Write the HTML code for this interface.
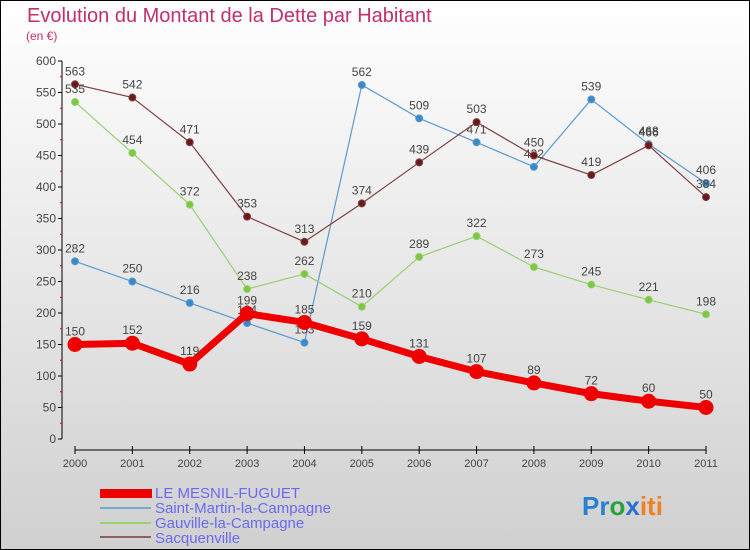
<!DOCTYPE html>
<html><head><meta charset="utf-8"><style>
body{margin:0;width:750px;height:550px;overflow:hidden;font-family:"Liberation Sans",sans-serif}
#c{position:absolute;left:0;top:0;width:748px;height:548px;border:1px solid #000;background:linear-gradient(#ffffff,#d0d0d0)}
</style></head><body>
<div id="c">
<svg id="s" width="750" height="550" style="position:absolute;left:-1px;top:-1px">
<text x="27" y="22" font-size="20" fill="#c0306a">Evolution du Montant de la Dette par Habitant</text>
<text x="26" y="40" font-size="12" fill="#c0306a">(en €)</text>
<g id="axes"></g><g id="series"></g>
<g>
<rect x="100" y="489" width="52" height="9" fill="#ee0000"/>
<text x="155" y="498" font-size="15" fill="#6a6af0">LE MESNIL-FUGUET</text>
<line x1="100" y1="508" x2="151" y2="508" stroke="#7aa8cc" stroke-width="2"/>
<text x="155" y="513" font-size="15" fill="#6a6af0">Saint-Martin-la-Campagne</text>
<line x1="100" y1="523" x2="151" y2="523" stroke="#99d070" stroke-width="2"/>
<text x="155" y="528" font-size="15" fill="#6a6af0">Gauville-la-Campagne</text>
<line x1="100" y1="537" x2="151" y2="537" stroke="#906060" stroke-width="2"/>
<text x="155" y="543" font-size="15" fill="#6a6af0">Sacquenville</text>
</g>
<text x="582" y="515" font-size="26" font-weight="bold"><tspan fill="#2a80d0">Pr</tspan><tspan fill="#2aa040">o</tspan><tspan fill="#2a70d0">x</tspan><tspan fill="#f08020">iti</tspan></text>
</svg></div>
<script>
const years=[2000,2001,2002,2003,2004,2005,2006,2007,2008,2009,2010,2011];
const yTicks=[0,50,100,150,200,250,300,350,400,450,500,550,600];
const mesnil=[150,152,119,199,185,159,131,107,89,72,60,50];
const saintMartin=[282,250,216,184,153,562,509,471,432,539,468,406];
const gauville=[535,454,372,238,262,210,289,322,273,245,221,198];
const sacquenville=[563,542,471,353,313,374,439,503,450,419,466,384];
const NS='http://www.w3.org/2000/svg';
const X=i=>75+i*(706-75)/11, Y=v=>439-v*(439-61)/600;
function mk(t,a,p){const e=document.createElementNS(NS,t);for(const k in a)e.setAttribute(k,a[k]);p.appendChild(e);return e;}
const ax=document.getElementById('axes'),sr=document.getElementById('series');
mk('line',{x1:62,y1:61,x2:62,y2:439,stroke:'#000'},ax);
yTicks.forEach(v=>{mk('line',{x1:58,y1:Y(v),x2:62,y2:Y(v),stroke:'#000'},ax);
if(v<600)mk('line',{x1:60,y1:Y(v+25),x2:62,y2:Y(v+25),stroke:'#e00'},ax);
const t=mk('text',{x:56,y:Y(v)+4,'font-size':12,fill:'#444','text-anchor':'end'},ax);

t.textContent=v;});
mk('line',{x1:75,y1:450,x2:706,y2:450,stroke:'#000'},ax);
years.forEach((y,i)=>{mk('line',{x1:X(i),y1:446,x2:X(i),y2:454,stroke:'#000'},ax);
const t=mk('text',{x:X(i),y:467,'font-size':11,fill:'#444','text-anchor':'middle'},ax);

t.textContent=y;});
function draw(vals,name,col,w,r,dot){
const g=mk('g',{},sr);


mk('polyline',{points:vals.map((v,i)=>X(i)+','+Y(v)).join(' '),fill:'none',stroke:col,'stroke-width':w,'stroke-linejoin':'round'},g);
vals.forEach((v,i)=>{const c=mk('circle',{cx:X(i),cy:Y(v),r:r,fill:dot,stroke:col,'stroke-width':1},g);


const t=mk('text',{x:X(i),y:Y(v)-9,'font-size':12,fill:'#444','text-anchor':'middle'},g);

t.textContent=v;});}
draw(saintMartin,'series-saint-martin','#5a9ad0',1.2,3.5,'#3a88c8');
draw(gauville,'series-gauville','#99d070',1.2,3.5,'#7ac840');
draw(sacquenville,'series-sacquenville','#804040',1.2,3.5,'#6a1a1a');
draw(mesnil,'series-mesnil','#ee0000',7,7,'#ee0000');
</script>
</body></html>
